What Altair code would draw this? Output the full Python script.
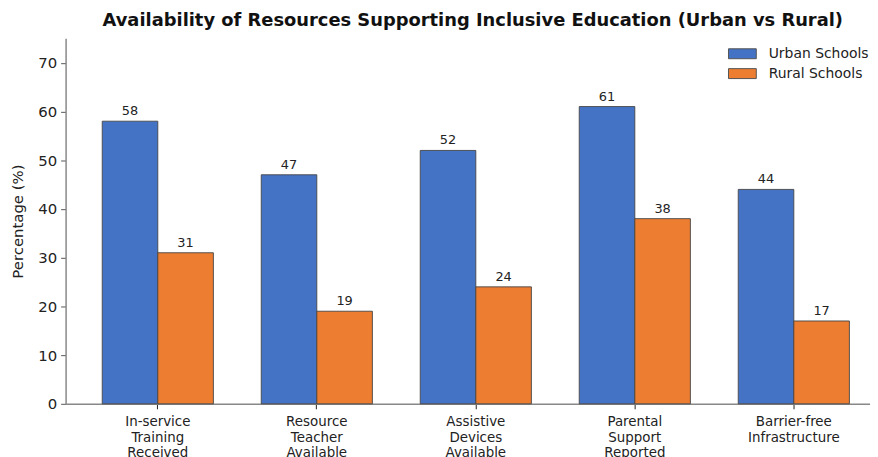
import altair as alt
import pandas as pd

categories = [
    "In-service|Training|Received",
    "Resource|Teacher|Available",
    "Assistive|Devices|Available",
    "Parental|Support|Reported",
    "Barrier-free|Infrastructure",
]
urban = [58, 47, 52, 61, 44]
rural = [31, 19, 24, 38, 17]
groups = ["Urban Schools", "Rural Schools"]
colors = ["#4472C4", "#ED7D31"]

rows = []
for c, u, r in zip(categories, urban, rural):
    rows.append({"Category": c, "Group": groups[0], "Value": u})
    rows.append({"Category": c, "Group": groups[1], "Value": r})
df = pd.DataFrame(rows)

FONT = "DejaVu Sans"

x_enc = alt.X(
    "Category:N",
    sort=categories,
    scale=alt.Scale(paddingInner=0.301, paddingOuter=0.18, align=0.64),
    axis=alt.Axis(
        title=None,
        labelAngle=0,
        labelExpr="split(datum.label, '|')",
        labelFont=FONT,
        labelFontSize=13.5,
        labelColor="#222",
        labelLineHeight=15.5,
        labelPadding=6,
        tickSize=5,
        tickColor="#222",
        domainColor="#888",
        domainWidth=1.5,
    ),
)
xoff = alt.XOffset("Group:N", sort=groups, scale=alt.Scale(paddingInner=0, paddingOuter=0))
y_enc = alt.Y(
    "Value:Q",
    scale=alt.Scale(domain=[0, 75], nice=False),
    axis=alt.Axis(
        title="Percentage (%)",
        values=[0, 10, 20, 30, 40, 50, 60, 70],
        grid=False,
        labelFont=FONT,
        labelFontSize=15,
        labelColor="#222",
        labelPadding=4,
        tickSize=5,
        tickColor="#555",
        domainColor="#888",
        domainWidth=1.5,
        titleFont=FONT,
        titleFontSize=15,
        titleFontWeight="normal",
        titleColor="#222",
        titleX=-48,
        titleY=184,
        titleAngle=-90,
        titleBaseline="middle",
        titleAlign="center",
    ),
)

bars = alt.Chart(df).mark_bar(stroke="#444", strokeWidth=0.9).encode(
    x=x_enc,
    xOffset=xoff,
    y=y_enc,
    color=alt.Color(
        "Group:N",
        sort=groups,
        scale=alt.Scale(domain=groups, range=colors),
        legend=alt.Legend(
            title=None,
            orient="none",
            legendX=671,
            legendY=5,
            symbolType="M-1.4,-0.5L1.4,-0.5L1.4,0.5L-1.4,0.5Z",
            symbolSize=400,
            symbolStrokeColor="#555",
            symbolStrokeWidth=1,
            symbolOpacity=1,
            labelFont=FONT,
            labelFontSize=14,
            labelColor="#222",
            labelOffset=16,
            rowPadding=2,
        ),
    ),
)

labels = alt.Chart(df).mark_text(
    font=FONT, fontSize=13, color="#222", baseline="alphabetic", dy=-6
).encode(
    x=alt.X("Category:N", sort=categories),
    xOffset=alt.XOffset("Group:N", sort=groups),
    y="Value:Q",
    text="Value:Q",
)

chart = (
    alt.layer(bars, labels)
    .properties(
        width=810,
        height=368,
        autosize=alt.AutoSizeParams(type="none"),
        padding={"left": 58, "top": 29, "right": 0, "bottom": 52},
        title=alt.TitleParams(
            "Availability of Resources Supporting Inclusive Education (Urban vs Rural)",
            font=FONT,
            fontSize=18,
            fontWeight="bold",
            color="#111",
            anchor="middle",
            dx=5,
            offset=8,
        ),
    )
    .configure_view(stroke=None)
)

chart.save("out.html", embed_options={"renderer": "svg", "actions": False})
